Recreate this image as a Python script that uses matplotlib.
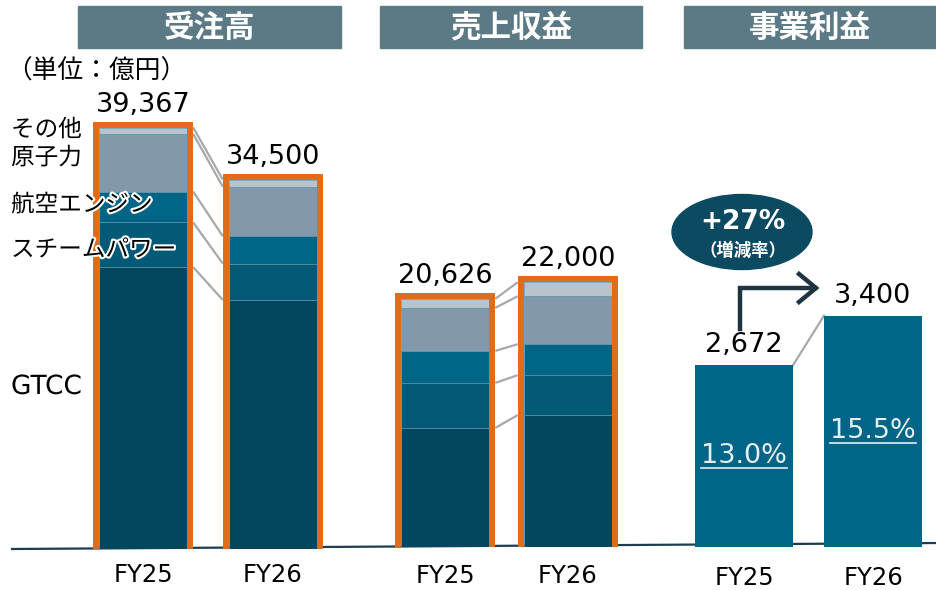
import matplotlib
matplotlib.use('Agg')
import matplotlib.pyplot as plt
import numpy as np
from matplotlib.patches import Ellipse, Rectangle
from matplotlib.lines import Line2D
import matplotlib.patheffects as pe

plt.rcParams['font.family'] = ['DejaVu Sans', 'Noto Sans CJK JP']
JP = ['Noto Sans CJK JP', 'DejaVu Sans']

# ---------------- data ----------------
years = ['FY25', 'FY26']
segments = ['GTCC', 'スチームパワー', '航空エンジン', '原子力', 'その他']

orders_gtcc = [26326, 23260]
orders_steam = [4178, 3400]
orders_aero = [2878, 2550]
orders_nuclear = [5385, 4630]
orders_other = [600, 660]
orders_total = [39367, 34500]

revenue_gtcc = [9896, 10960]
revenue_steam = [3740, 3320]
revenue_aero = [2660, 2575]
revenue_nuclear = [3580, 3985]
revenue_other = [750, 1160]
revenue_total = [20626, 22000]

profit = [2672, 3400]
profit_margin = ['13.0%', '15.5%']
growth_label = '+27%'
growth_sub = '（増減率）'
panel_titles = ['受注高', '売上収益', '事業利益']
unit_label = '（単位：億円）'

# ---------------- style ----------------
seg_colors = ['#03475f', '#035a76', '#006586', '#8399ab', '#b9c3cc']
orange = '#e06c1a'
grey_line = '#a8a8a8'
header_color = '#5b7a85'
profit_color = '#006586'

W, H = 937, 590
fig = plt.figure(figsize=(W / 100, H / 100), dpi=100)


def fx(px):
    return px / W


def fy(py):
    return 1 - py / H


def make_axes(center0, spacing, bottom_px, upp, pad):
    left = center0 - spacing * 1.0
    right = center0 + spacing * 1.5
    ax = fig.add_axes([fx(left), fy(bottom_px), (right - left) / W, bottom_px / H])
    ax.set_xlim(-1, 1.5)
    ax.set_ylim(0, upp * bottom_px)
    ax.patch.set_visible(False)
    for s in ax.spines.values():
        s.set_visible(False)
    ax.set_yticks([])
    ax.set_xticks([0, 1])
    ax.set_xticklabels(years, fontsize=17.5)
    ax.tick_params(length=0, pad=pad)
    return ax


def stacked(ax, series, total, width, spacing, upp):
    x = np.arange(len(years))
    bottom = np.zeros(len(years))
    bounds = []
    for vals, c in zip(series, seg_colors):
        ax.bar(x, vals, width, bottom=bottom, color=c, edgecolor='#5a90a5',
               linewidth=0.5, zorder=2)
        bottom = bottom + np.array(vals)
        bounds.append(bottom.copy())
    mx = 3 / spacing
    my = 3 * upp
    ax.bar(x, np.array(total) + 2 * my, width + 2 * mx, bottom=-my, fill=False,
           edgecolor=orange, linewidth=4.3, zorder=3)
    x0 = 0 + width / 2 + 2 * mx
    x1 = 1 - width / 2 - 2 * mx
    for b in bounds:
        ax.plot([x0, x1], [b[0], b[1]], color=grey_line, lw=1.6, zorder=1,
                solid_capstyle='butt')
    for xi, t in zip(x, total):
        ax.annotate(f'{t:,}', (xi, t), xytext=(0, 23 * 0.72), textcoords='offset points',
                    ha='center', va='center', fontsize=19.5)


# baseline
fig.add_artist(Line2D([fx(12), fx(937)], [fy(549), fy(543)], transform=fig.transFigure,
                      color='#1c3d4f', lw=1.6, zorder=-1))

# orders
upp1 = 93.4
ax1 = make_axes(143, 130, 549, upp1, 10)
stacked(ax1, [orders_gtcc, orders_steam, orders_aero, orders_nuclear, orders_other],
        orders_total, 0.68, 130, upp1)

# revenue
upp2 = 83.1
ax2 = make_axes(445, 123, 547, upp2, 12)
stacked(ax2, [revenue_gtcc, revenue_steam, revenue_aero, revenue_nuclear, revenue_other],
        revenue_total, 0.72, 123, upp2)

# profit
upp3 = 14.7
ax3 = make_axes(744, 129, 547, upp3, 13.5)
xp = np.arange(len(years))
wp = 0.76
ax3.bar(xp, profit, wp, color=profit_color, zorder=2)
ax3.plot([0 + wp / 2, 1 - wp / 2], profit, color=grey_line, lw=1.6, zorder=1)
margin_texts = []
for xi, v, m in zip(xp, profit, profit_margin):
    ax3.annotate(f'{v:,}', (xi, v), xytext=(0, 20 * 0.72), textcoords='offset points',
                 ha='center', va='center', fontsize=19.5)
    t = ax3.text(xi, v / 2, m, ha='center', va='center', fontsize=19.5, color='#e8eff3',
                 zorder=4)
    margin_texts.append(t)

# header boxes
for (x0, x1), title in zip([(78, 341), (380, 642), (684, 935)], panel_titles):
    fig.add_artist(Rectangle((fx(x0), fy(48)), (x1 - x0) / W, 42 / H,
                             transform=fig.transFigure, color=header_color, zorder=0))
    fig.text(fx((x0 + x1) / 2), fy(28), title, ha='center', va='center', color='white',
             fontsize=22, fontweight='bold', family=JP)

# unit label
fig.text(fx(6), fy(72), unit_label, ha='left', va='center', fontsize=18.5, family=JP)

# segment labels
label_y_px = [387, 250, 205, 158, 130]
for name, ypx in zip(segments, label_y_px):
    fs = 19 if name == 'GTCC' else 17
    fig.text(fx(11), fy(ypx), name, ha='left', va='center', fontsize=fs,
             family=['DejaVu Sans', 'Noto Sans CJK JP'] if name == 'GTCC' else JP,
             zorder=10, path_effects=[pe.withStroke(linewidth=3, foreground='white')])

# growth bubble
fig.add_artist(Ellipse((fx(742), fy(232)), 140 / W, 75 / H, transform=fig.transFigure,
                       color='#0c4a62', zorder=5))
fig.text(fx(743), fy(222), growth_label, ha='center', va='center', color='white',
         fontsize=19, fontweight='bold', zorder=6)
fig.text(fx(743), fy(251), growth_sub, ha='center', va='center', color='white',
         fontsize=12.5, fontweight='bold', family=JP, zorder=6)

# arrow
arrow_color = '#1f3441'
fig.add_artist(Line2D([fx(740), fx(740), fx(815)], [fy(329), fy(288), fy(288)],
                      transform=fig.transFigure, color=arrow_color, lw=3.2,
                      solid_joinstyle='miter', zorder=5))
fig.add_artist(Line2D([fx(799), fx(816), fx(799)], [fy(274), fy(288), fy(302)],
                      transform=fig.transFigure, color=arrow_color, lw=3.2,
                      solid_joinstyle='miter', zorder=5))

# underline margin labels
fig.canvas.draw()
for t in margin_texts:
    bb = t.get_window_extent()
    yline = bb.y0 + 1
    fig.add_artist(Line2D([bb.x0 / W, bb.x1 / W], [yline / H, yline / H],
                          transform=fig.transFigure, color='#e8eff3', lw=1.2, zorder=6))

fig.savefig('out.png', dpi=100)
